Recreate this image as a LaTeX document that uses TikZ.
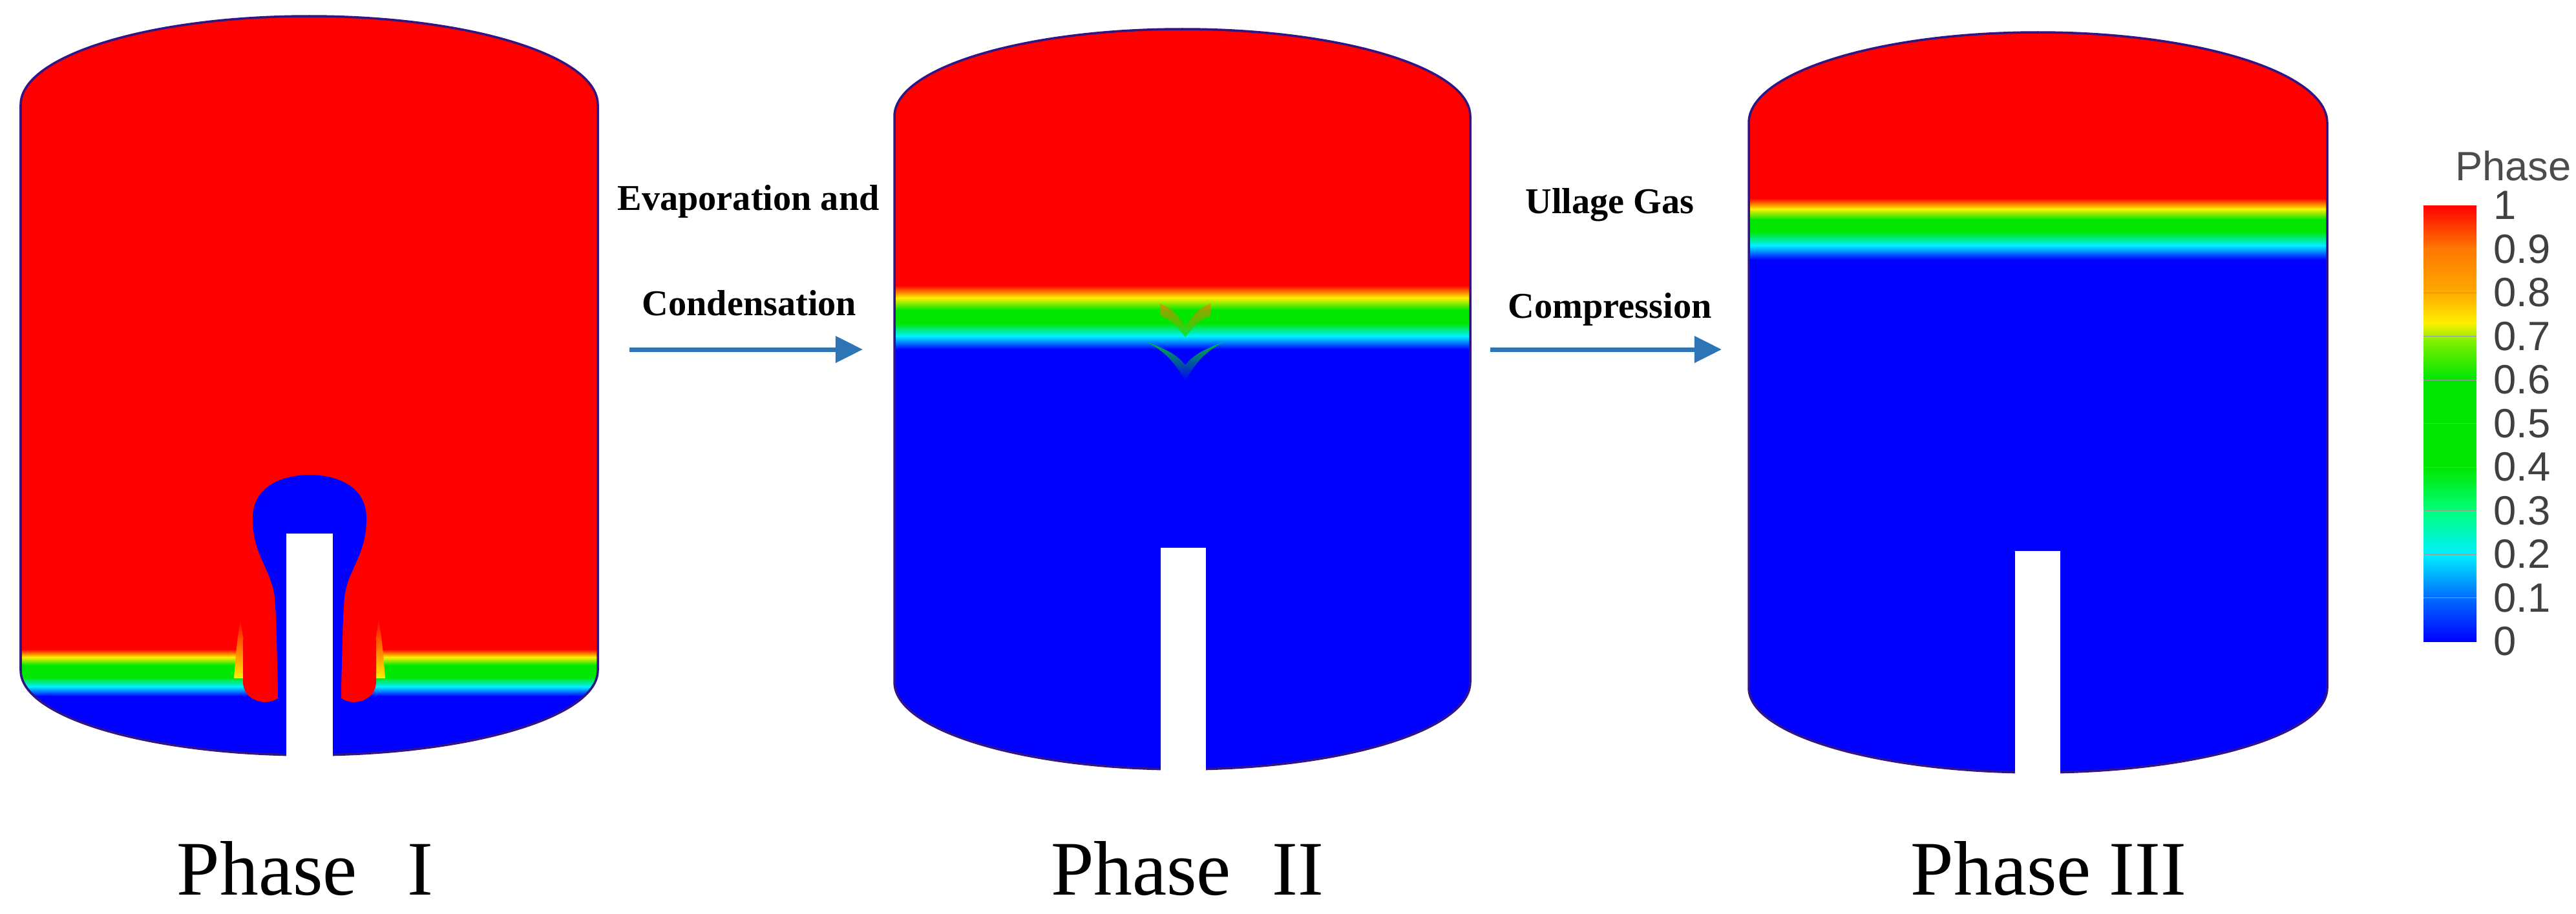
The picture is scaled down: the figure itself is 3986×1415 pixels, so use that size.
\documentclass[tikz,border=0pt]{standalone}
\usepackage{fontspec}
\setmainfont{Liberation Serif}
\newfontfamily\legfont{Liberation Sans}
\usetikzlibrary{arrows.meta}
\definecolor{cfdred}{RGB}{255,0,0}
\definecolor{cfdblue}{RGB}{0,0,255}
\definecolor{cfdor}{RGB}{255,120,0}
\definecolor{cfdyel}{RGB}{255,240,0}
\definecolor{cfdgrn}{RGB}{0,230,0}
\definecolor{cfdcyan}{RGB}{0,240,255}
\definecolor{rim}{RGB}{50,20,130}
\definecolor{arrowblue}{RGB}{46,117,182}
\newcommand\tankshape[6]{(#1,#4) arc[start angle=180,end angle=0,x radius={(#2-#1)/2*0.01cm},y radius={(#4-#3)*0.01cm}] -- (#2,#5) arc[start angle=0,end angle=-180,x radius={(#2-#1)/2*0.01cm},y radius={(#6-#5)*0.01cm}] -- cycle}
\newcommand\bandfill[6]{% L R y0 y1 y2 y3 : red->yellow->green->cyan->blue
  \shade[top color=cfdred,bottom color=cfdyel] (#1,#3) rectangle (#2,{(#3+#4)/2});
  \shade[top color=cfdyel,bottom color=cfdgrn] (#1,{(#3+#4)/2}) rectangle (#2,#4);
  \fill[cfdgrn] (#1,#4) rectangle (#2,#5);
  \shade[top color=cfdgrn,bottom color=cfdcyan] (#1,#5) rectangle (#2,{(#5+#6)/2});
  \shade[top color=cfdcyan,bottom color=cfdblue] (#1,{(#5+#6)/2}) rectangle (#2,#6);}
\tikzset{
  rimline/.style={draw=rim,line width=0.035cm},
  pipe/.style={fill=white},
  phaselbl/.style={anchor=base,inner sep=0pt,font=\fontsize{34}{40}\selectfont},
  proclbl/.style={anchor=base west,inner sep=0pt,font=\fontsize{16}{19}\selectfont\bfseries},
  flow/.style={draw=arrowblue,line width=0.07cm,-{Triangle[length=0.42cm,width=0.4cm]}},
  leglbl/.style={anchor=west,inner sep=0pt,text=black!75,font=\legfont\fontsize{18}{22}\selectfont}
}
\begin{document}
\begin{tikzpicture}[x=0.01cm,y=-0.01cm]
\useasboundingbox (0,0) rectangle (3986,1415);
% ---------- Tank 1
\begin{scope}
\clip \tankshape{32}{925}{25}{162}{1038}{1169};
\fill[cfdred] (0,0) rectangle (1000,1200);
\bandfill{0}{1000}{1005}{1030}{1048}{1078}
\fill[cfdblue] (0,1078) rectangle (1000,1200);
% flames near fingers
\shade[top color=cfdred,bottom color=cfdyel] (362,1050) .. controls (366,1000) .. (372,958) .. controls (378,1000) .. (386,1050) -- cycle;
\shade[top color=cfdred,bottom color=cfdyel] (596,1050) .. controls (592,1000) .. (586,958) .. controls (580,1000) .. (572,1050) -- cycle;
% red fingers
\fill[cfdred] (376,990) -- (376,1055) .. controls (376,1095) and (440,1098) .. (440,1060) -- (440,990) -- cycle;
\fill[cfdred] (582,990) -- (582,1055) .. controls (582,1095) and (518,1098) .. (518,1060) -- (518,990) -- cycle;
% blue keyhole bubble
\fill[cfdblue] (430,1169) -- (430,1062) .. controls (428,1000) and (428,960) .. (425,925)
  .. controls (420,880) and (390,860) .. (391,800) .. controls (393,745) and (450,735) .. (479,735)
  .. controls (508,735) and (565,745) .. (567,800) .. controls (568,860) and (538,880) .. (533,925)
  .. controls (530,960) and (530,1000) .. (528,1062) -- (528,1169) -- cycle;
\end{scope}
\draw[rimline] \tankshape{32}{925}{25}{162}{1038}{1169};
\fill[pipe] (443,826) rectangle (515,1185);
% ---------- Tank 2
\begin{scope}
\clip \tankshape{1384}{2275}{45}{180}{1056}{1191};
\fill[cfdred] (1300,0) rectangle (2300,1250);
\bandfill{1300}{2300}{442}{480}{500}{541}
\fill[cfdblue] (1300,541) rectangle (2300,1250);
% central disturbance
\shade[top color=cfdgrn,bottom color=cfdblue,opacity=0.8] (1775,530) .. controls (1805,545) and (1820,565) .. (1834,590) .. controls (1848,565) and (1863,545) .. (1893,530) .. controls (1865,540) and (1848,548) .. (1834,565) .. controls (1820,548) and (1803,540) .. (1775,530) -- cycle;
\shade[top color=cfdor,bottom color=cfdgrn,opacity=0.7] (1795,470) .. controls (1815,480) .. (1834,505) .. controls (1853,480) .. (1873,470) -- (1873,488) .. controls (1853,498) .. (1834,522) .. controls (1815,498) .. (1795,488) -- cycle;
\end{scope}
\draw[rimline] \tankshape{1384}{2275}{45}{180}{1056}{1191};
\fill[pipe] (1796,848) rectangle (1866,1205);
% ---------- Tank 3
\begin{scope}
\clip \tankshape{2706}{3601}{50}{190}{1065}{1196};
\fill[cfdred] (2650,0) rectangle (3650,1250);
\bandfill{2650}{3650}{307}{340}{358}{402}
\fill[cfdblue] (2650,402) rectangle (3650,1250);
\end{scope}
\draw[rimline] \tankshape{2706}{3601}{50}{190}{1065}{1196};
\fill[pipe] (3118,853) rectangle (3188,1210);
% ---------- Labels
\node[phaselbl] (p1) at (472,1385) {Phase\hspace{22pt}I};
\node[phaselbl] (p2) at (1837,1385) {Phase\hspace{18pt}II};
\node[phaselbl] (p3) at (3170,1385) {Phase\hspace{8pt}III};
\node[proclbl] (e1) at (955,325) {Evaporation and};
\node[proclbl] (e2) at (993,488) {Condensation};
\node[proclbl] (u1) at (2360,330) {Ullage Gas};
\node[proclbl] (u2) at (2333,492) {Compression};
\coordinate (a1s) at (974,541);
\coordinate (a1e) at (1335,541);
\coordinate (a2s) at (2306,541);
\coordinate (a2e) at (2664,541);
\draw[flow] (a1s) -- (a1e);
\draw[flow] (a2s) -- (a2e);
% ---------- Legend
\shade[top color=cfdred,bottom color=cfdor] (3750,318) rectangle (3832,385);
\shade[top color=cfdor,bottom color={rgb,255:red,255;green,170;blue,0}] (3750,385) rectangle (3832,453);
\shade[top color={rgb,255:red,255;green,170;blue,0},bottom color=cfdyel] (3750,453) rectangle (3832,500);
\shade[top color=cfdyel,bottom color={rgb,255:red,120;green,240;blue,0}] (3750,500) rectangle (3832,530);
\shade[top color={rgb,255:red,120;green,240;blue,0},bottom color=cfdgrn] (3750,530) rectangle (3832,588);
\fill[cfdgrn] (3750,588) rectangle (3832,723);
\shade[top color=cfdgrn,bottom color={rgb,255:red,0;green,255;blue,120}] (3750,723) rectangle (3832,790);
\shade[top color={rgb,255:red,0;green,255;blue,120},bottom color=cfdcyan] (3750,790) rectangle (3832,858);
\shade[top color=cfdcyan,bottom color={rgb,255:red,0;green,110;blue,255}] (3750,858) rectangle (3832,925);
\shade[top color={rgb,255:red,0;green,110;blue,255},bottom color=cfdblue] (3750,925) rectangle (3832,993);
\foreach \v in {1,...,9}{\draw[black!40,line width=0.01cm] (3750,{993-\v*67.5}) -- (3832,{993-\v*67.5});}
\node[leglbl,anchor=center,text=black!70] (lt) at (3889,257) {Phase};
\foreach \v/\t in {0/0,1/0.1,2/0.2,3/0.3,4/0.4,5/0.5,6/0.6,7/0.7,8/0.8,9/0.9,10/1}{
  \node[leglbl] (l\v) at (3858,{993-\v*67.5}) {\t};}
\end{tikzpicture}
\end{document}
